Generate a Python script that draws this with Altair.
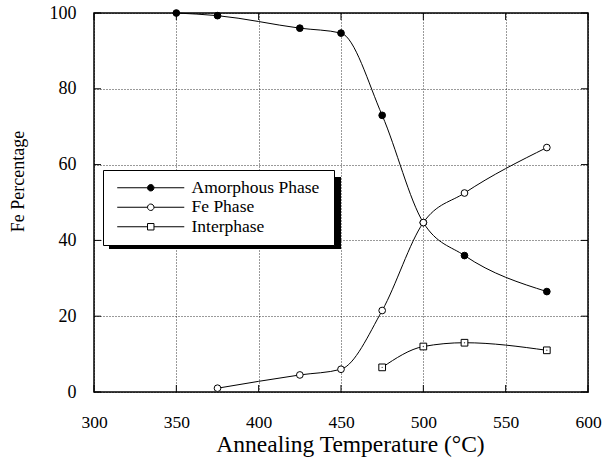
import altair as alt
import pandas as pd

# ---- data ----
series_names = ["Amorphous Phase", "Fe Phase", "Interphase"]
temp_amorphous = [350, 375, 425, 450, 475, 500, 525, 575]
amorphous = [100, 99.3, 96, 94.7, 73, 44.7, 36, 26.5]
temp_fe = [375, 425, 450, 475, 500, 525, 575]
fe_phase = [1, 4.5, 6, 21.5, 44.7, 52.5, 64.5]
temp_inter = [475, 500, 525, 575]
interphase = [6.5, 12, 13, 11]
x_ticks = [300, 350, 400, 450, 500, 550, 600]
y_ticks = [0, 20, 40, 60, 80, 100]

rows = []
for n, ts, vs in zip(series_names, [temp_amorphous, temp_fe, temp_inter],
                     [amorphous, fe_phase, interphase]):
    for t, v in zip(ts, vs):
        rows.append({"series": n, "t": t, "pct": v})
df = pd.DataFrame(rows)
df_xt = pd.DataFrame({"t": x_ticks})
df_yt = pd.DataFrame({"pct": y_ticks})
df_leg = pd.DataFrame({"series": series_names})

W, H = 494, 379
FONT = "Liberation Serif"
TK = 7

x_enc = alt.X("t:Q", scale=alt.Scale(domain=[300, 600], nice=False, zero=False),
              axis=alt.Axis(values=x_ticks, title="Annealing Temperature (°C)",
                            grid=True, gridDash=[1, 2], gridColor="black", gridWidth=0.8,
                            tickSize=0, domain=False, labelPadding=21, labelFlush=False,
                            labelFont=FONT, labelFontSize=17.5, labelColor="black",
                            titleFont=FONT, titleFontSize=23.5, titleFontWeight="normal",
                            titleColor="black", titlePadding=2, titleX=256))
y_enc = alt.Y("pct:Q", scale=alt.Scale(domain=[0, 100], nice=False),
              axis=alt.Axis(values=y_ticks, title="Fe Percentage",
                            grid=True, gridDash=[1, 2], gridColor="black", gridWidth=0.8,
                            tickSize=0, domain=False, labelPadding=18, labelFlush=False,
                            labelFont=FONT, labelFontSize=18, labelColor="black",
                            titleFont=FONT, titleFontSize=18, titleFontWeight="normal",
                            titleColor="black", titlePadding=22, titleY=168))

lines = alt.Chart(df).mark_line(interpolate="monotone", color="black", strokeWidth=1).encode(
    x=x_enc, y=y_enc, detail="series:N")

points = alt.Chart(df).mark_point(filled=True, size=45, stroke="black", strokeWidth=1, opacity=1).encode(
    x=x_enc, y=y_enc,
    shape=alt.Shape("series:N", scale=alt.Scale(domain=series_names, range=["circle", "circle", "square"]), legend=None),
    fill=alt.Fill("series:N", scale=alt.Scale(domain=series_names, range=["black", "white", "white"]), legend=None),
)

dots = alt.Chart(df).transform_filter(alt.datum.series == "Interphase").mark_point(
    filled=True, size=2, color="black", shape="circle").encode(x=x_enc, y=y_enc)

# legend symbols: line with marker, custom paths in the symbol unit box
r = 0.43
L = 4.47
circ = (f"M{-L},0L{-r},0M{r},0L{L},0M{-r},0A{r},{r},0,1,0,{r},0A{r},{r},0,1,0,{-r},0Z")
sq = (f"M{-L},0L{-r},0M{r},0L{L},0M{-r},{-r}L{r},{-r}L{r},{r}L{-r},{r}Z")


def leg():
    return alt.Legend(
        title=" ", titleFontSize=1, titlePadding=6, titleOrient="right",
        orient="none", legendX=9, legendY=157,
        strokeColor="black", fillColor="white", padding=9,
        symbolSize=225, symbolStrokeWidth=1, symbolOffset=30,
        symbolOpacity=1, labelFont=FONT, labelFontSize=17.5, labelColor="black",
        labelOffset=32, rowPadding=0.5,
    )


legend_layer = alt.Chart(df_leg).transform_filter("false").mark_point(filled=True, strokeWidth=1).encode(
    shape=alt.Shape("series:N", scale=alt.Scale(domain=series_names, range=[circ, circ, sq]), legend=leg()),
    fill=alt.Fill("series:N", scale=alt.Scale(domain=series_names, range=["black", "white", "white"]), legend=leg()),
    stroke=alt.Stroke("series:N", scale=alt.Scale(domain=series_names, range=["black", "black", "black"]), legend=leg()),
)

shadow = alt.Chart(pd.DataFrame({"k": [0]})).mark_rect(color="black").encode(
    x=alt.value(15), x2=alt.value(247), y=alt.value(164), y2=alt.value(236))

ticks_b = alt.Chart(df_xt).mark_rule(color="black", strokeWidth=1).encode(
    x=x_enc, y=alt.value(H), y2=alt.value(H - TK))
ticks_t = alt.Chart(df_xt).mark_rule(color="black", strokeWidth=1).encode(
    x=x_enc, y=alt.value(0), y2=alt.value(TK))
ticks_l = alt.Chart(df_yt).mark_rule(color="black", strokeWidth=1).encode(
    y=y_enc, x=alt.value(0), x2=alt.value(TK))
ticks_r = alt.Chart(df_yt).mark_rule(color="black", strokeWidth=1).encode(
    y=y_enc, x=alt.value(W), x2=alt.value(W - TK))

chart = alt.layer(ticks_b, ticks_t, ticks_l, ticks_r, lines, shadow, points, dots, legend_layer).resolve_scale(
    shape="independent", fill="independent", stroke="independent"
).properties(
    width=W, height=H,
    autosize=alt.AutoSizeParams(type="none"),
    padding={"left": 94, "top": 13, "right": 17, "bottom": 67},
    background="white",
).configure_view(stroke="black", strokeWidth=1.5)

chart.save("out.html", embed_options={"renderer": "svg", "actions": False})
